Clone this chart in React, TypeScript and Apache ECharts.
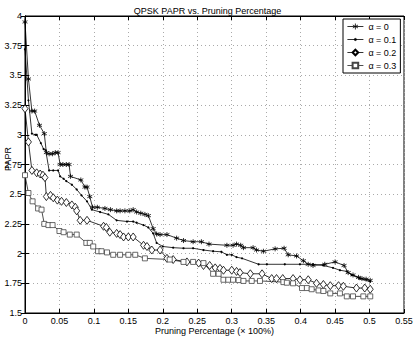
import React, { useEffect, useRef } from "react";
import * as echarts from "echarts";

const seriesNames = ["α = 0", "α = 0.1", "α = 0.2", "α = 0.3"];

const a0X = [0, 0.005, 0.010, 0.014, 0.021, 0.028, 0.031, 0.035, 0.040, 0.044, 0.048, 0.051, 0.055, 0.060, 0.064, 0.066, 0.081, 0.087, 0.090, 0.094, 0.098, 0.105, 0.116, 0.124, 0.133, 0.138, 0.145, 0.152, 0.157, 0.162, 0.168, 0.174, 0.179, 0.186, 0.191, 0.196, 0.206, 0.220, 0.230, 0.244, 0.256, 0.267, 0.293, 0.302, 0.307, 0.313, 0.317, 0.331, 0.336, 0.346, 0.363, 0.376, 0.382, 0.394, 0.404, 0.411, 0.418, 0.435, 0.450, 0.463, 0.469, 0.476, 0.484, 0.489, 0.495, 0.501];
const a0Y = [3.95, 3.47, 3.20, 3.20, 3.08, 3.01, 2.85, 2.84, 2.84, 2.85, 2.85, 2.75, 2.75, 2.75, 2.75, 2.65, 2.62, 2.56, 2.56, 2.48, 2.39, 2.39, 2.38, 2.37, 2.36, 2.36, 2.36, 2.36, 2.37, 2.35, 2.34, 2.33, 2.32, 2.21, 2.165, 2.16, 2.16, 2.13, 2.11, 2.10, 2.10, 2.08, 2.07, 2.07, 2.08, 2.07, 2.05, 2.05, 2.03, 2.02, 2.04, 2.045, 1.99, 1.98, 1.94, 1.91, 1.90, 1.91, 1.93, 1.90, 1.84, 1.82, 1.80, 1.79, 1.785, 1.775];

const a1X = [0, 0.005, 0.010, 0.015, 0.017, 0.023, 0.027, 0.030, 0.035, 0.041, 0.048, 0.051, 0.056, 0.060, 0.068, 0.075, 0.082, 0.090, 0.097, 0.109, 0.121, 0.133, 0.148, 0.157, 0.162, 0.172, 0.179, 0.186, 0.191, 0.200, 0.215, 0.230, 0.244, 0.259, 0.273, 0.285, 0.293, 0.300, 0.307, 0.315, 0.339, 0.351, 0.377, 0.399, 0.418, 0.433, 0.447, 0.457, 0.467, 0.474, 0.486, 0.501];
const a1Y = [3.72, 3.29, 3.01, 3.0, 3.0, 2.93, 2.88, 2.87, 2.70, 2.70, 2.70, 2.65, 2.63, 2.61, 2.58, 2.54, 2.49, 2.44, 2.37, 2.35, 2.33, 2.28, 2.27, 2.27, 2.26, 2.24, 2.22, 2.17, 2.09, 2.06, 2.05, 2.045, 2.045, 2.03, 2.02, 2.015, 1.99, 1.99, 1.97, 1.96, 1.91, 1.91, 1.91, 1.91, 1.91, 1.90, 1.88, 1.86, 1.85, 1.82, 1.79, 1.765];

const a2X = [0, 0.005, 0.010, 0.017, 0.022, 0.026, 0.029, 0.031, 0.037, 0.041, 0.047, 0.053, 0.060, 0.068, 0.073, 0.075, 0.080, 0.090, 0.114, 0.118, 0.123, 0.133, 0.138, 0.143, 0.150, 0.157, 0.172, 0.177, 0.184, 0.196, 0.206, 0.215, 0.235, 0.252, 0.259, 0.268, 0.276, 0.283, 0.288, 0.300, 0.307, 0.312, 0.327, 0.344, 0.358, 0.365, 0.374, 0.389, 0.399, 0.411, 0.423, 0.433, 0.443, 0.455, 0.462, 0.481, 0.493, 0.501];
const a2Y = [3.22, 2.94, 2.70, 2.68, 2.67, 2.66, 2.64, 2.48, 2.49, 2.47, 2.45, 2.44, 2.43, 2.41, 2.39, 2.36, 2.28, 2.28, 2.23, 2.22, 2.18, 2.17, 2.16, 2.14, 2.14, 2.14, 2.07, 2.06, 2.03, 2.03, 1.96, 1.95, 1.93, 1.92, 1.90, 1.90, 1.88, 1.875, 1.86, 1.86, 1.85, 1.84, 1.83, 1.83, 1.79, 1.79, 1.79, 1.79, 1.78, 1.78, 1.75, 1.74, 1.73, 1.73, 1.725, 1.71, 1.71, 1.70];

const a3X = [0, 0.005, 0.011, 0.019, 0.024, 0.028, 0.034, 0.040, 0.050, 0.056, 0.065, 0.075, 0.089, 0.094, 0.099, 0.106, 0.111, 0.119, 0.128, 0.138, 0.150, 0.160, 0.174, 0.210, 0.230, 0.244, 0.259, 0.273, 0.281, 0.288, 0.295, 0.302, 0.310, 0.317, 0.329, 0.341, 0.375, 0.380, 0.389, 0.402, 0.409, 0.416, 0.426, 0.433, 0.443, 0.457, 0.467, 0.476, 0.491, 0.501];
const a3Y = [2.66, 2.51, 2.44, 2.38, 2.37, 2.25, 2.24, 2.24, 2.19, 2.18, 2.16, 2.16, 2.09, 2.09, 2.06, 2.02, 2.02, 2.01, 1.99, 1.99, 1.99, 1.99, 1.96, 1.95, 1.93, 1.93, 1.92, 1.83, 1.83, 1.78, 1.78, 1.78, 1.777, 1.77, 1.77, 1.77, 1.76, 1.755, 1.75, 1.71, 1.71, 1.70, 1.69, 1.685, 1.665, 1.665, 1.64, 1.64, 1.64, 1.64];

const xTicks = { min: 0, max: 0.55, interval: 0.05 };
const yTicks = { min: 1.5, max: 4, interval: 0.25 };

const FONT = "Liberation Sans";
const ASTERISK = "path://M0,-5L0,5M-4.33,-2.5L4.33,2.5M-4.33,2.5L4.33,-2.5";
const ASTER_ICON = "path://M-8,0L8,0M0,-3L0,3M-2.6,-1.5L2.6,1.5M-2.6,1.5L2.6,-1.5";
const DOT_ICON = "path://M0,-3M0,3M-8,0L8,0M-1.1,0A1.1,1.1,0,1,1,1.1,0A1.1,1.1,0,1,1,-1.1,0Z";

function pairs(xs: number[], ys: number[]) {
  return xs.map((x, i) => [x, ys[i]]);
}

export default function App() {
  const ref = useRef<HTMLDivElement>(null);
  useEffect(() => {
    if (!ref.current) return;
    const chart = echarts.init(ref.current, undefined, { renderer: "svg" });
    const tickStyle = { show: true, inside: true, length: 4, lineStyle: { color: "#000", width: 1 } };
    const common = {
      type: "line",
      showSymbol: true,
      showAllSymbol: true,
      lineStyle: { color: "#000", width: 0.8 },
      emphasis: { disabled: true },
    };
    const iconStyle = { color: "#000", borderColor: "#000", borderWidth: 0.8 };
    chart.setOption({
      animation: false,
      backgroundColor: "#fff",
      textStyle: { fontFamily: FONT },
      title: {
        text: "QPSK PAPR vs. Pruning Percentage",
        left: "center",
        top: 1,
        textStyle: { fontSize: 9, fontWeight: "normal", color: "#000", fontFamily: FONT },
      },
      legend: {
        left: 343,
        top: 19,
        orient: "vertical",
        itemWidth: 16,
        itemHeight: 7,
        itemGap: 4,
        padding: [3, 4, 3, 4],
        borderColor: "#000",
        borderWidth: 1,
        backgroundColor: "#fff",
        lineStyle: { width: 0.8 },
        textStyle: { fontSize: 9, color: "#000", fontFamily: FONT },
        data: [
          { name: seriesNames[0], icon: ASTER_ICON, itemStyle: iconStyle },
          { name: seriesNames[1], icon: DOT_ICON, itemStyle: iconStyle },
          { name: seriesNames[2] },
          { name: seriesNames[3] },
        ],
      },
      grid: {
        left: 25,
        right: 11,
        top: 16,
        bottom: 24,
        containLabel: false,
        outerBoundsMode: "none",
        show: true,
        borderColor: "#000",
        borderWidth: 1,
      },
      xAxis: [
        {
          type: "value",
          ...xTicks,
          name: "Pruning Percentage (× 100%)",
          nameLocation: "middle",
          nameGap: 13,
          nameMoveOverlap: false,
          nameTextStyle: { fontSize: 9, color: "#000", fontFamily: FONT },
          axisLine: { show: true, lineStyle: { color: "#000" } },
          axisTick: tickStyle,
          axisLabel: { fontSize: 9, color: "#000", margin: 3, fontFamily: FONT },
          splitLine: { show: true, lineStyle: { color: "#aaa", type: [1, 3], width: 1 } },
        },
        {
          type: "value",
          position: "top",
          ...xTicks,
          axisLine: { show: true, lineStyle: { color: "#000" } },
          axisTick: tickStyle,
          axisLabel: { show: false },
          splitLine: { show: false },
        },
      ],
      yAxis: [
        {
          type: "value",
          ...yTicks,
          name: "PAPR",
          nameLocation: "middle",
          nameGap: 13,
          nameMoveOverlap: false,
          nameRotate: 90,
          nameTextStyle: { fontSize: 9, color: "#000", fontFamily: FONT, padding: [0, 0, 0, 11] },
          axisLine: { show: true, lineStyle: { color: "#000" } },
          axisTick: tickStyle,
          axisLabel: { fontSize: 9, color: "#000", margin: 3, fontFamily: FONT },
          splitLine: { show: true, lineStyle: { color: "#aaa", type: [1, 3], width: 1 } },
        },
        {
          type: "value",
          position: "right",
          ...yTicks,
          axisLine: { show: true, lineStyle: { color: "#000" } },
          axisTick: tickStyle,
          axisLabel: { show: false },
          splitLine: { show: false },
        },
      ],
      series: [
        {
          ...common,
          name: seriesNames[0],
          data: pairs(a0X, a0Y),
          symbol: ASTERISK,
          symbolSize: 5,
          itemStyle: { color: "#000", borderColor: "#000", borderWidth: 0.8 },
        },
        {
          ...common,
          name: seriesNames[1],
          data: pairs(a1X, a1Y),
          symbol: "circle",
          symbolSize: 2.2,
          itemStyle: { color: "#000", borderColor: "#000", borderWidth: 0 },
        },
        {
          ...common,
          name: seriesNames[2],
          data: pairs(a2X, a2Y),
          symbol: "diamond",
          symbolSize: [6, 8],
          itemStyle: { color: "#fff", borderColor: "#000", borderWidth: 0.8 },
        },
        {
          ...common,
          name: seriesNames[3],
          data: pairs(a3X, a3Y),
          symbol: "rect",
          symbolSize: 5,
          lineStyle: { color: "#222", width: 0.8 },
          itemStyle: { color: "#fff", borderColor: "#444", borderWidth: 0.8 },
        },
      ],
    });
    return () => chart.dispose();
  }, []);
  return <div ref={ref} style={{ width: 415, height: 337, position: "absolute", left: 0, top: 0 }} />;
}
